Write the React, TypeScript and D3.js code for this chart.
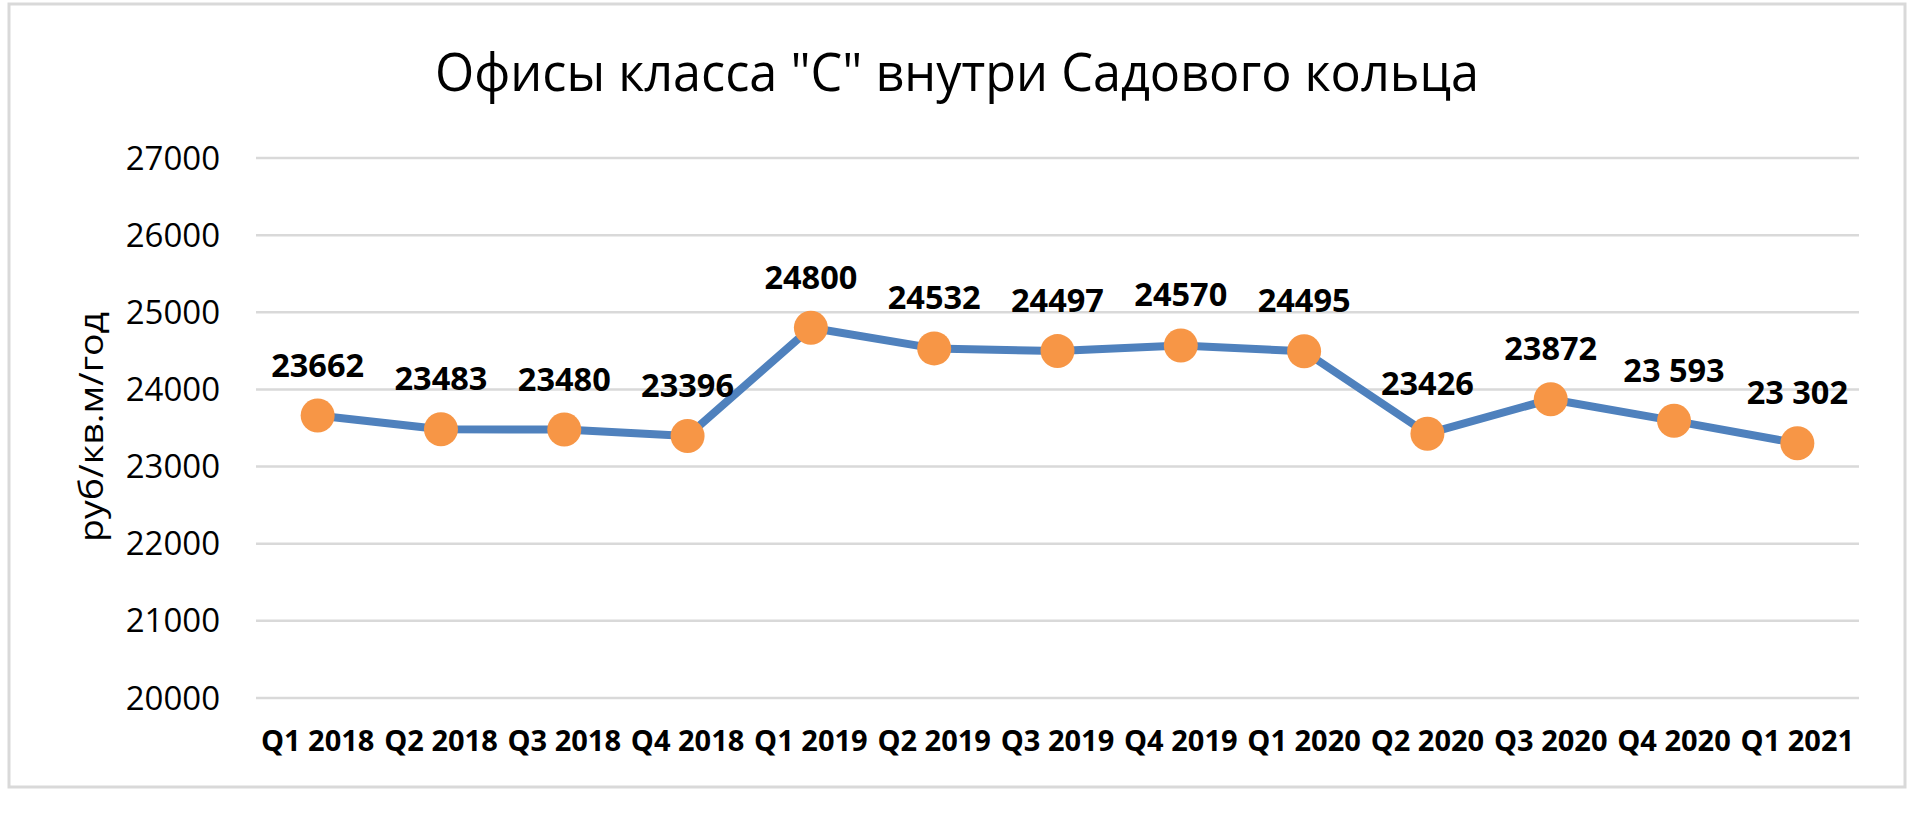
import React from "react";
import * as d3 from "d3";

const categories = ["Q1 2018", "Q2 2018", "Q3 2018", "Q4 2018", "Q1 2019", "Q2 2019", "Q3 2019", "Q4 2019", "Q1 2020", "Q2 2020", "Q3 2020", "Q4 2020", "Q1 2021"];
const values = [23662, 23483, 23480, 23396, 24800, 24532, 24497, 24570, 24495, 23426, 23872, 23593, 23302];
const valueLabels = ["23662", "23483", "23480", "23396", "24800", "24532", "24497", "24570", "24495", "23426", "23872", "23 593", "23 302"];
const yTicks = [20000, 21000, 22000, 23000, 24000, 25000, 26000, 27000];
const title = "Офисы класса \"С\" внутри Садового кольца";
const yTitle = "руб/кв.м/год";

const W = 1915;
const H = 817;
const FONT = "'Open Sans', 'Noto Sans', sans-serif";

export default function App() {
  const x = d3.scaleBand<string>().domain(categories).range([256, 1859]).padding(0);
  const y = d3.scaleLinear().domain([20000, 27000]).range([698, 158]);
  const cx = (c: string) => (x(c) as number) + x.bandwidth() / 2;
  const pts = categories.map((c, i) => [cx(c), y(values[i])] as [number, number]);
  const line = d3.line<[number, number]>().x((d) => d[0]).y((d) => d[1]);

  return (
    <svg width={W} height={H} style={{ position: "absolute", left: 0, top: 0, background: "#fff" }} fontFamily={FONT}>
      <rect x={0} y={0} width={W} height={H} fill="#fff" />
      <rect x={9} y={4} width={1896} height={783} fill="#fff" stroke="#d9d9d9" strokeWidth={3} />
      <text x={957} y={91} textAnchor="middle" fontSize={53} fill="#000" textLength={1044} lengthAdjust="spacingAndGlyphs">{title}</text>
      {yTicks.map((t) => (
        <g key={t}>
          <line x1={256} x2={1859} y1={y(t)} y2={y(t)} stroke="#d9d9d9" strokeWidth={2.5} />
          <text x={220} y={y(t) + 11.5} textAnchor="end" fontSize={33} fill="#000">{t}</text>
        </g>
      ))}
      <text transform={`translate(103,427) rotate(-90)`} textAnchor="middle" fontSize={32} fill="#000" textLength={230} lengthAdjust="spacingAndGlyphs">{yTitle}</text>
      {categories.map((c) => (
        <text key={c} x={cx(c)} y={751} textAnchor="middle" fontSize={29} fontWeight="bold" fill="#000">{c}</text>
      ))}
      <path d={line(pts) as string} fill="none" stroke="#4f81bd" strokeWidth={8} strokeLinejoin="round" />
      {pts.map((p, i) => (
        <circle key={i} cx={p[0]} cy={p[1]} r={17} fill="#f79646" />
      ))}
      {pts.map((p, i) => (
        <text key={"l" + i} x={p[0]} y={p[1] - 39} textAnchor="middle" fontSize={32.5} fontWeight="bold" fill="#000">{valueLabels[i]}</text>
      ))}
    </svg>
  );
}
